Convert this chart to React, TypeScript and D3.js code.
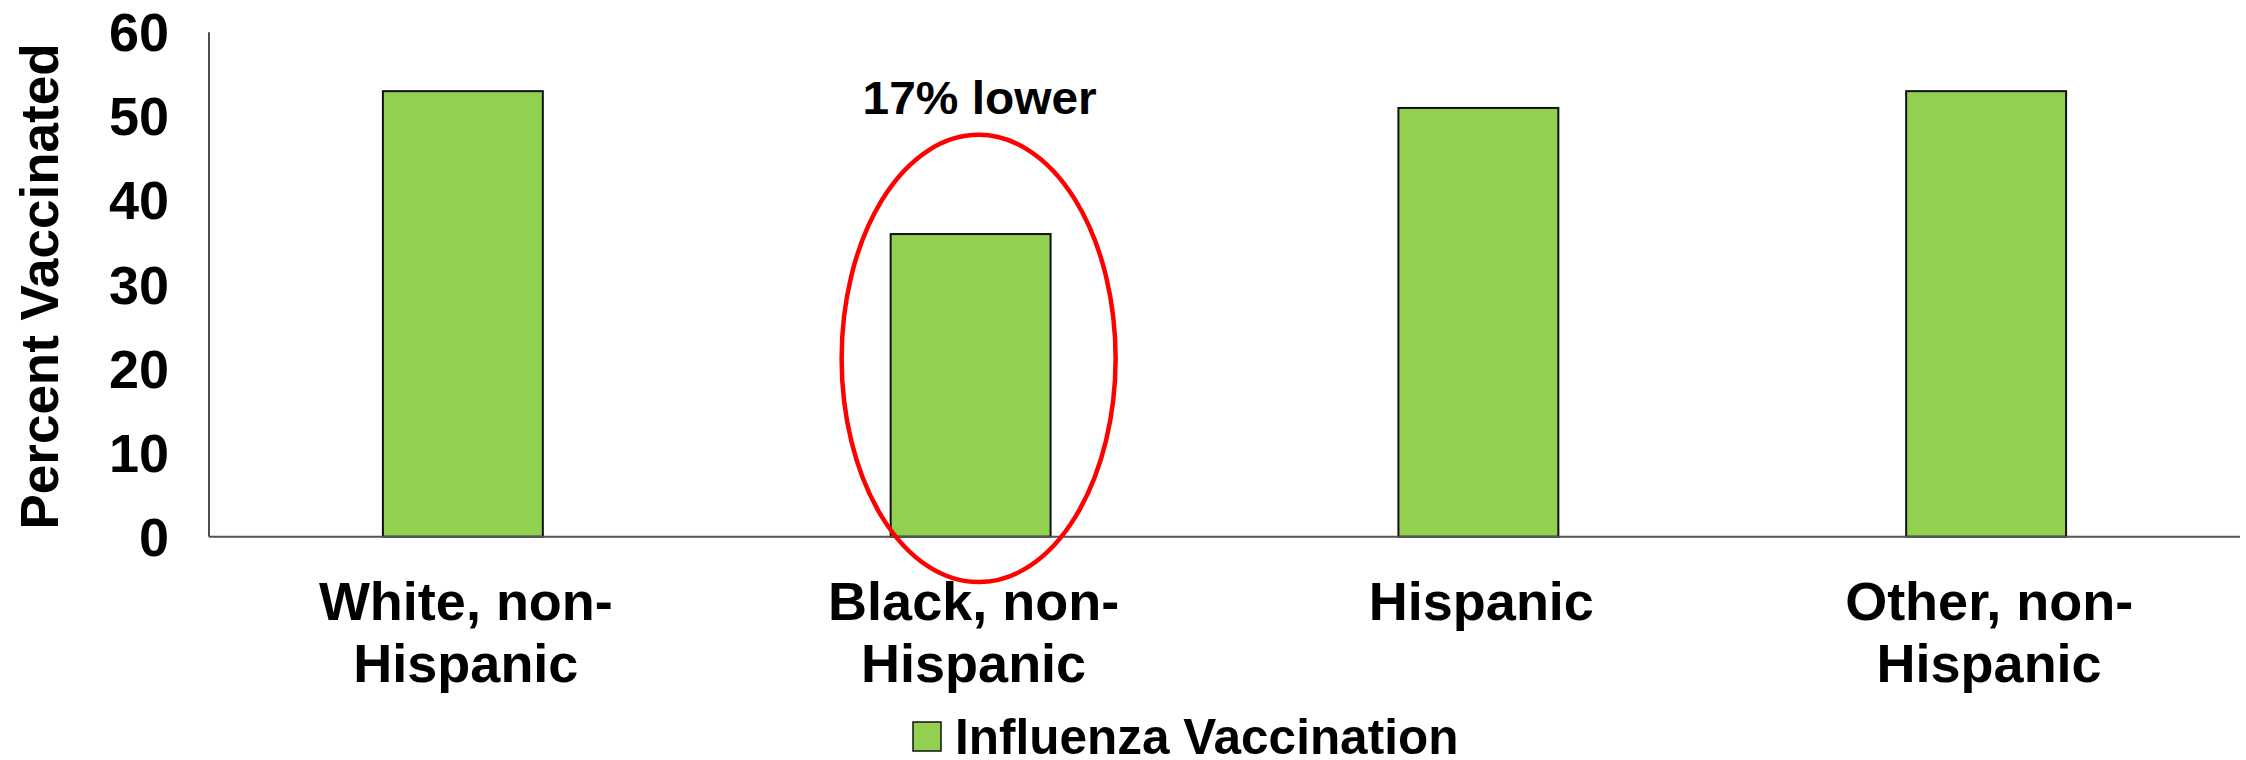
import React from "react";
import * as d3 from "d3";

const categories = ["White, non-Hispanic", "Black, non-Hispanic", "Hispanic", "Other, non-Hispanic"];
const categoryLines = [["White, non-", "Hispanic"], ["Black, non-", "Hispanic"], ["Hispanic"], ["Other, non-", "Hispanic"]];
const vaccinated = [53, 36, 51, 53];
const yTicks = [0, 10, 20, 30, 40, 50, 60];
const seriesName = "Influenza Vaccination";
const yTitle = "Percent Vaccinated";
const annotationText = "17% lower";
const annotatedCategory = "Black, non-Hispanic";

const W = 2246;
const H = 760;
const plot = { left: 209, right: 2240, top: 32.3, bottom: 536.7 };
const FONT = "'Liberation Sans', Arial, sans-serif";
const GREEN = "#92D050";

export default function App() {
  const x = d3
    .scaleBand<string>()
    .domain(categories)
    .range([plot.left, plot.right])
    .paddingInner(0.685)
    .paddingOuter(0.3425);
  const y = d3.scaleLinear().domain([0, 60]).range([plot.bottom, plot.top]);
  const center = (c: string) => (x(c) as number) + x.bandwidth() / 2;

  const ac = center(annotatedCategory);
  const eTop = y(47.8);
  const eBot = y(-5.4);

  return (
    <svg
      width={W}
      height={H}
      viewBox={`0 0 ${W} ${H}`}
      style={{ position: "absolute", left: 0, top: 0, background: "#fff" }}
      fontFamily={FONT}
      fontWeight="bold"
    >
      {/* y-axis title */}
      <text
        transform={`translate(58, ${(plot.top + plot.bottom) / 2 + 2}) rotate(-90)`}
        textAnchor="middle"
        fontSize={53}
        fill="#000"
      >
        {yTitle}
      </text>

      {/* y tick labels */}
      {yTicks.map((t) => (
        <text key={t} x={169} y={y(t) + 19} textAnchor="end" fontSize={54} fill="#000">
          {t}
        </text>
      ))}

      {/* bars */}
      {categories.map((c, i) => (
        <rect
          key={c}
          x={x(c)}
          y={y(vaccinated[i])}
          width={x.bandwidth()}
          height={y(0) - y(vaccinated[i])}
          fill={GREEN}
          stroke="#111"
          strokeWidth={2}
        />
      ))}

      {/* axes */}
      <line x1={plot.left} x2={plot.left} y1={plot.top} y2={plot.bottom} stroke="#222" strokeWidth={1.6} />
      <line x1={plot.left} x2={plot.right} y1={y(0)} y2={y(0)} stroke="#555" strokeWidth={2} />

      {/* annotation ellipse */}
      <ellipse
        cx={ac + 8}
        cy={(eTop + eBot) / 2}
        rx={137}
        ry={(eBot - eTop) / 2}
        fill="none"
        stroke="#FF0000"
        strokeWidth={4.5}
      />
      <text
        transform={`translate(${ac + 9}, ${y(50.3)}) scale(1.03, 1)`}
        textAnchor="middle"
        fontSize={46.5}
        fill="#000"
      >
        {annotationText}
      </text>

      {/* x labels */}
      {categories.map((c, i) =>
        categoryLines[i].map((line, j) => (
          <text
            key={c + j}
            x={center(c) + 3}
            y={620 + j * 62}
            textAnchor="middle"
            fontSize={54}
            fill="#000"
          >
            {line}
          </text>
        ))
      )}

      {/* legend */}
      <rect x={913} y={722} width={28} height={29} fill={GREEN} stroke="#111" strokeWidth={1.5} />
      <text x={955} y={754} fontSize={49.5} fill="#000">
        {seriesName}
      </text>
    </svg>
  );
}
